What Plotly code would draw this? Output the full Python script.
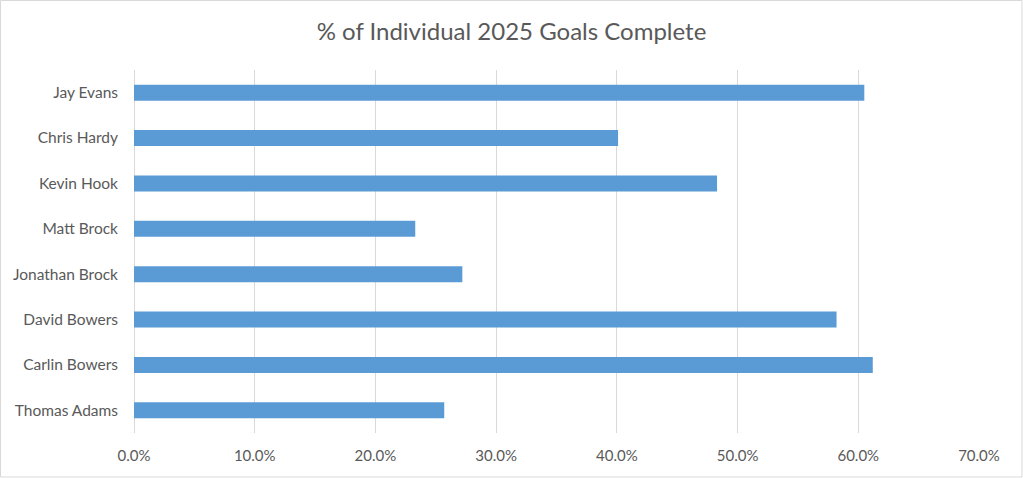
import plotly.graph_objects as go

names = ["Thomas Adams", "Carlin Bowers", "David Bowers", "Jonathan Brock",
         "Matt Brock", "Kevin Hook", "Chris Hardy", "Jay Evans"]
pct_complete = [0.257, 0.612, 0.582, 0.272, 0.233, 0.483, 0.401, 0.605]
x_ticks = [0, 0.1, 0.2, 0.3, 0.4, 0.5, 0.6, 0.7]
title_text = "% of Individual 2025 Goals Complete"

W, H = 1023, 478
L, R, T, B = 134, 44, 70, 45
pw, ph = W - L - R, H - T - B

fig = go.Figure(go.Bar(
    x=pct_complete, y=names, orientation="h",
    marker=dict(color="#5B9BD5", line=dict(width=0)),
    hoverinfo="x+y",
))

fig.update_layout(
    width=W, height=H,
    margin=dict(l=L, r=R, t=T, b=B),
    paper_bgcolor="white", plot_bgcolor="white",
    bargap=0.645,
    showlegend=False,
    font=dict(family="Lato, Carlito, 'Open Sans', sans-serif", color="#595959", size=15),
    title=dict(text=title_text, x=0.5, xref="container", xanchor="center",
               y=1 - 32 / H, yanchor="middle", yref="container",
               font=dict(size=24, color="#595959")),
    xaxis=dict(range=[0, 0.7], tickvals=x_ticks, tickformat=".1%",
               showgrid=True, gridcolor="#d9d9d9", gridwidth=1,
               zeroline=True, zerolinecolor="#d9d9d9", zerolinewidth=1,
               showline=False, ticks="", ticklabelstandoff=12, fixedrange=True,
               tickfont=dict(size=15)),
    yaxis=dict(showgrid=False, zeroline=False, showline=False, ticks="",
               ticklabelstandoff=15, range=[-0.5, len(names) - 0.5], fixedrange=True,
               tickfont=dict(size=15.5)),
    shapes=[dict(type="rect", xref="paper", yref="paper",
                 x0=(-L + 0.5) / pw, x1=(pw + R - 1) / pw,
                 y0=(-B + 1) / ph, y1=(ph + T - 0.5) / ph,
                 line=dict(color="#d9d9d9", width=1), fillcolor="rgba(0,0,0,0)",
                 layer="below")],
)

fig.write_html("out.html", config={"displayModeBar": False},
               post_script="document.body.style.margin='0';document.body.style.overflow='hidden';")
